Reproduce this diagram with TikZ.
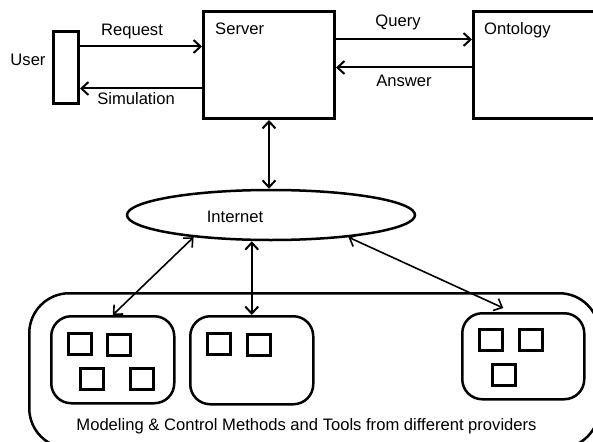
\documentclass[tikz,border=0pt]{standalone}
\usepackage{fontspec}
\setmainfont{Liberation Sans}
\usetikzlibrary{arrows.meta,shapes.geometric,calc}
\begin{document}
\begin{tikzpicture}[x=1pt,y=-1pt,
  font=\fontsize{16.6}{20}\selectfont,
  >={Straight Barb[length=7pt,width=13pt]},
  box/.style={draw, line width=3pt, inner sep=0pt, anchor=north west},
  rbox/.style={draw, line width=2.5pt, inner sep=0pt, anchor=north west, rounded corners=20pt},
  sq/.style={draw, line width=2.5pt, inner sep=0pt, anchor=north west, minimum width=23pt, minimum height=21pt},
  conn/.style={line width=2pt},
  thinconn/.style={line width=1.6pt},
  lbl/.style={inner sep=0pt, anchor=base}]
\useasboundingbox (0,0) rectangle (593,441);
\clip (0,0) rectangle (593,441);
% top row
\node[box, minimum width=25pt, minimum height=72pt] (user) at (52,30) {};
\node[box, minimum width=131pt, minimum height=107pt] (server) at (202,10) {};
\node[box, minimum width=140pt, minimum height=107pt] (onto) at (472,10) {};
\node[lbl] (usertxt) at (28,66) {User};
\node[lbl, anchor=base west] (servertxt) at (215,35) {Server};
\node[lbl, anchor=base west] (ontotxt) at (484,35) {Ontology};
% internet
\node[draw, ellipse, line width=2.5pt, minimum width=288pt, minimum height=50pt, inner sep=0pt] (inet) at (271,215) {};
\node[lbl] (inettxt) at (235,222.5) {Internet};
% bottom
\node[box, line width=2.5pt, rounded corners=40pt, minimum width=570pt, minimum height=155pt] (outer) at (28,292) {};
\node[rbox, minimum width=123pt, minimum height=87pt] (box1) at (50,315) {};
\node[rbox, minimum width=123pt, minimum height=88pt] (box2) at (189,315) {};
\node[rbox, minimum width=122pt, minimum height=86pt] (box3) at (461,312) {};
\node[sq] (s1) at (67,332) {};
\node[sq] (s2) at (106,333) {};
\node[sq] (s3) at (79,367) {};
\node[sq] (s4) at (129,367) {};
\node[sq] (s5) at (206,332) {};
\node[sq] (s6) at (246,333) {};
\node[sq] (s7) at (478,328) {};
\node[sq] (s8) at (518,328) {};
\node[sq] (s9) at (491,363) {};
\node[lbl] (bottomtxt) at (306.5,430.5) {Modeling \& Control Methods and Tools from different providers};
% connector labels
\node[lbl] (reqtxt) at (132,36) {Request};
\node[lbl] (simtxt) at (136,104) {Simulation};
\node[lbl] (qtxt) at (398,27) {Query};
\node[lbl] (atxt) at (404,87) {Answer};
% connectors top
\draw[conn,->] ([yshift=21pt]user.east) -- ([yshift=21pt]user.east -| server.west);
\draw[conn,->] ([yshift=-21pt]user.east -| server.west) -- ([yshift=-21pt]user.east);
\draw[conn,->] ([yshift=25.5pt]server.east) -- ([yshift=25.5pt]server.east -| onto.west);
\draw[conn,->] ([yshift=-2.5pt]server.east -| onto.west) -- ([yshift=-2.5pt]server.east);
% vertical server-internet
\draw[conn,<->] (server.south) -- (server.south |- inet.north);
% internet to providers
\draw[thinconn,<->] (inet.196) -- (box1.north);
\draw[conn,<->] (box2.north |- inet.south) -- (box2.north);
\draw[thinconn,<->] (inet.344) -- ($(box3.north)+(-20,-4)$);
\end{tikzpicture}
\end{document}
